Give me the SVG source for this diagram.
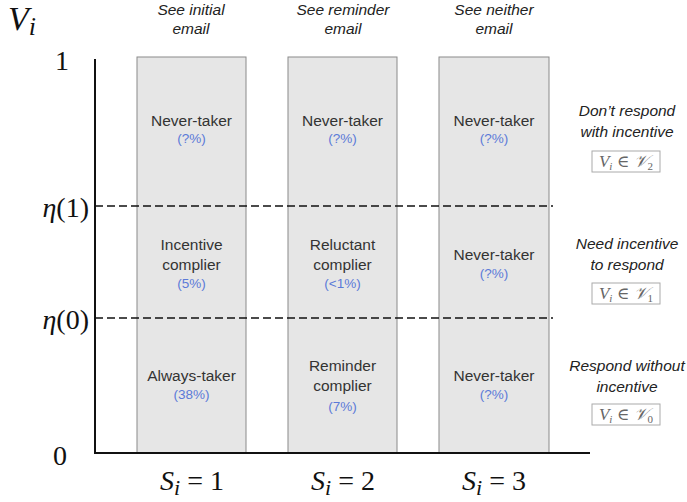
<svg xmlns="http://www.w3.org/2000/svg" width="687" height="502" viewBox="0 0 687 502">
<style>
.col{fill:#e6e6e6;stroke:#8a8a8a;stroke-width:1}
.lbl{font-family:"Liberation Sans",Arial,sans-serif;font-size:15.5px;fill:#333;text-anchor:middle}
.pct{font-family:"Liberation Sans",Arial,sans-serif;font-size:13.5px;fill:#5b7ad8;text-anchor:middle}
.hdr{font-family:"Liberation Sans",Arial,sans-serif;font-size:15.5px;font-style:italic;fill:#222;text-anchor:middle}
.math{font-family:"Liberation Serif","Times New Roman",serif;fill:#111}
.it{font-style:italic}
.box{fill:#fff;stroke:#aaa;stroke-width:1}
.boxt{font-family:"Liberation Serif","DejaVu Serif",serif;font-size:17px;fill:#666;text-anchor:middle}
.axis{stroke:#111;stroke-width:2;fill:none}
.dash{stroke:#111;stroke-width:1.7;stroke-dasharray:8 4;fill:none}
</style>

<g id="header-1"><text class="hdr" x="191" y="15">See initial</text><text class="hdr" x="191" y="34">email</text></g>
<g id="header-2"><text class="hdr" x="343" y="15">See reminder</text><text class="hdr" x="343" y="34">email</text></g>
<g id="header-3"><text class="hdr" x="494" y="15">See neither</text><text class="hdr" x="494" y="34">email</text></g>

<g id="col-1"><rect class="col" x="137" y="57" width="109" height="396"/></g>
<g id="col-2"><rect class="col" x="288" y="57" width="109" height="396"/></g>
<g id="col-3"><rect class="col" x="439" y="57" width="110" height="396"/></g>

<g id="connectors">
<line class="axis" x1="95" y1="59" x2="95" y2="454"/>
<line class="axis" x1="94" y1="453" x2="590" y2="453"/>
<line class="dash" x1="95" y1="206" x2="553" y2="206"/>
<line class="dash" x1="95" y1="318" x2="553" y2="318"/>
</g>

<g id="c1-top"><text class="lbl" x="191.5" y="126">Never-taker</text><text class="pct" x="191.5" y="143">(?%)</text></g>
<g id="c1-mid"><text class="lbl" x="191.5" y="250">Incentive</text><text class="lbl" x="191.5" y="270">complier</text><text class="pct" x="191.5" y="288">(5%)</text></g>
<g id="c1-bot"><text class="lbl" x="191.5" y="381">Always-taker</text><text class="pct" x="191.5" y="399">(38%)</text></g>

<g id="c2-top"><text class="lbl" x="342.5" y="126">Never-taker</text><text class="pct" x="342.5" y="143">(?%)</text></g>
<g id="c2-mid"><text class="lbl" x="342.5" y="250">Reluctant</text><text class="lbl" x="342.5" y="270">complier</text><text class="pct" x="342.5" y="288">(&lt;1%)</text></g>
<g id="c2-bot"><text class="lbl" x="342.5" y="371">Reminder</text><text class="lbl" x="342.5" y="391">complier</text><text class="pct" x="342.5" y="411">(7%)</text></g>

<g id="c3-top"><text class="lbl" x="494" y="126">Never-taker</text><text class="pct" x="494" y="143">(?%)</text></g>
<g id="c3-mid"><text class="lbl" x="494" y="260">Never-taker</text><text class="pct" x="494" y="278">(?%)</text></g>
<g id="c3-bot"><text class="lbl" x="494" y="381">Never-taker</text><text class="pct" x="494" y="399">(?%)</text></g>

<g id="y-axis-labels">
<text class="math" x="8" y="30" font-size="34"><tspan class="it">V</tspan><tspan class="it" font-size="26" dy="5">i</tspan></text>
<text class="math" x="62" y="70" font-size="28" text-anchor="middle">1</text>
<text class="math" x="89" y="217" font-size="28" text-anchor="end"><tspan class="it">η</tspan>(1)</text>
<text class="math" x="89" y="329" font-size="28" text-anchor="end"><tspan class="it">η</tspan>(0)</text>
<text class="math" x="60" y="465" font-size="28" text-anchor="middle">0</text>
</g>

<g id="x-axis-labels">
<text class="math" x="192" y="490" font-size="28" text-anchor="middle"><tspan class="it">S</tspan><tspan class="it" font-size="22" dy="5">i</tspan><tspan dy="-5"> = 1</tspan></text>
<text class="math" x="343" y="490" font-size="28" text-anchor="middle"><tspan class="it">S</tspan><tspan class="it" font-size="22" dy="5">i</tspan><tspan dy="-5"> = 2</tspan></text>
<text class="math" x="494" y="490" font-size="28" text-anchor="middle"><tspan class="it">S</tspan><tspan class="it" font-size="22" dy="5">i</tspan><tspan dy="-5"> = 3</tspan></text>
</g>

<g id="right-1"><text class="hdr" x="627" y="116">Don’t respond</text><text class="hdr" x="627" y="137">with incentive</text>
<rect class="box" x="592" y="151" width="68" height="21"/><text class="boxt" x="626" y="167"><tspan font-style="italic">V</tspan><tspan font-style="italic" font-size="11" dy="3">i</tspan><tspan dy="-3"> ∈ </tspan><tspan font-style="italic" font-family="DejaVu Serif,serif">𝒱</tspan><tspan font-size="11" dy="3">2</tspan></text></g>
<g id="right-2"><text class="hdr" x="627" y="249">Need incentive</text><text class="hdr" x="627" y="270">to respond</text>
<rect class="box" x="592" y="283" width="68" height="21"/><text class="boxt" x="626" y="299"><tspan font-style="italic">V</tspan><tspan font-style="italic" font-size="11" dy="3">i</tspan><tspan dy="-3"> ∈ </tspan><tspan font-style="italic" font-family="DejaVu Serif,serif">𝒱</tspan><tspan font-size="11" dy="3">1</tspan></text></g>
<g id="right-3"><text class="hdr" x="627" y="371">Respond without</text><text class="hdr" x="627" y="392">incentive</text>
<rect class="box" x="592" y="404" width="68" height="21"/><text class="boxt" x="626" y="420"><tspan font-style="italic">V</tspan><tspan font-style="italic" font-size="11" dy="3">i</tspan><tspan dy="-3"> ∈ </tspan><tspan font-style="italic" font-family="DejaVu Serif,serif">𝒱</tspan><tspan font-size="11" dy="3">0</tspan></text></g>
</svg>
